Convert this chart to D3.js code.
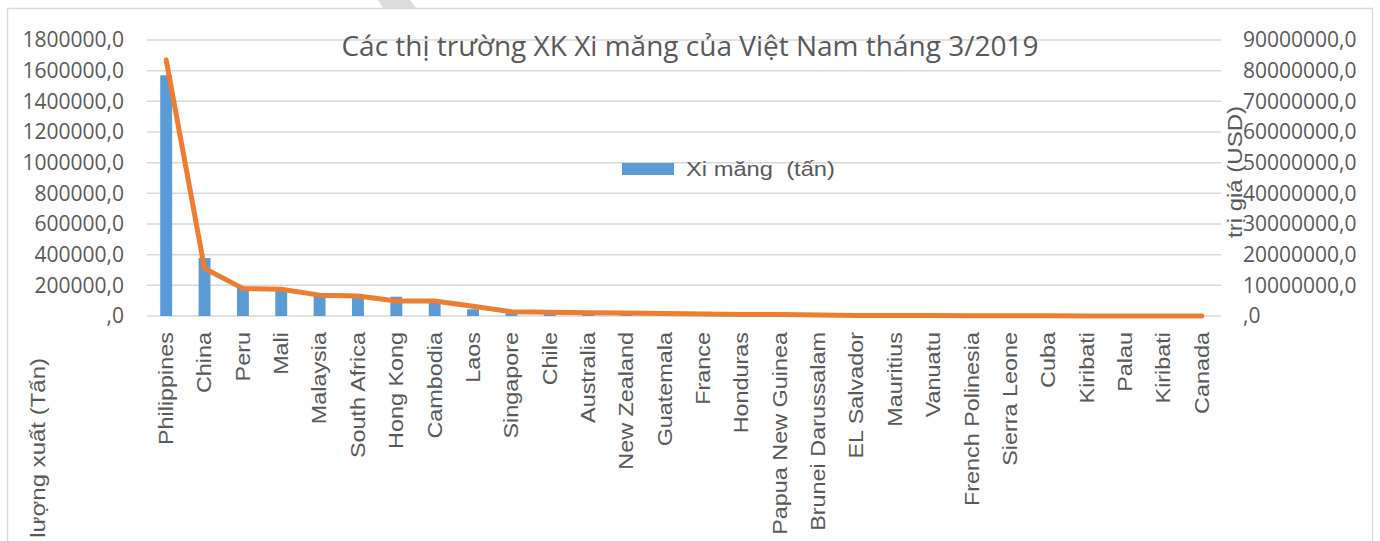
<!DOCTYPE html>
<html>
<head>
<meta charset="utf-8">
<script src="https://cdn.jsdelivr.net/npm/d3@7"></script>
<style>
  body { margin: 0; background: #fff; }
  svg { display: block; }
</style>
</head>
<body>
<div id="chart"></div>
<script>
// data
const categories = ["Philippines", "China", "Peru", "Mali", "Malaysia", "South Africa", "Hong Kong",
    "Cambodia", "Laos", "Singapore", "Chile", "Australia", "New Zealand", "Guatemala", "France",
    "Honduras", "Papua New Guinea", "Brunei Darussalam", "EL Salvador", "Mauritius", "Vanuatu",
    "French Polinesia", "Sierra Leone", "Cuba", "Kiribati", "Palau", "Kiribati", "Canada"];

const volumeTons = [1570000, 378000, 188000, 182000, 148000, 143000, 126000,
    106000, 44000, 18000, 12000, 10000, 7000, 6000, 4500,
    4000, 3500, 2500, 2000, 1500, 1200,
    800, 500, 400, 300, 200, 150, 100];

const valueUSD = [83500000, 15500000, 9000000, 8700000, 6800000, 6500000, 4900000,
    4900000, 3200000, 1400000, 1200000, 1100000, 1000000, 800000, 650000,
    500000, 450000, 300000, 200000, 180000, 150000,
    80000, 60000, 50000, 40000, 30000, 20000, 10000];

const leftTicks = [0, 200000, 400000, 600000, 800000, 1000000, 1200000, 1400000, 1600000, 1800000];
const rightTicks = [0, 10000000, 20000000, 30000000, 40000000, 50000000, 60000000, 70000000, 80000000, 90000000];

const title = "Các thị trường XK Xi măng của Việt Nam tháng 3/2019";
const legendLabel = "Xi măng  (tấn)";
const leftTitle = "Khối lượng xuất (Tấn)";
const rightTitle = "trị giá (USD)";

const width = 1380, height = 541;
const plotLeft = 147, plotRight = 1221, plotTop = 40, plotBottom = 316;
const grey = "#595959";

const svg = d3.select("#chart").append("svg")
    .attr("width", width)
    .attr("height", height);

// faint grey shape peeking in at the top edge
svg.append("polygon")
    .attr("points", "378,0 410,0 416,8 383,8")
    .attr("fill", "#dcdcdc");

// chart frame
svg.append("rect")
    .attr("x", 7.5).attr("y", 8.5)
    .attr("width", 1365).attr("height", 560)
    .attr("fill", "none")
    .attr("stroke", "#d9d9d9")
    .attr("stroke-width", 1.5);

let x = d3.scaleBand()
    .domain(d3.range(categories.length))
    .range([plotLeft, plotRight]);

let yLeft = d3.scaleLinear().domain([0, 1800000]).range([plotBottom, plotTop]);
let yRight = d3.scaleLinear().domain([0, 90000000]).range([plotBottom, plotTop]);

const fmt = d => d === 0 ? ",0" : d + ",0";

// gridlines
svg.selectAll("line.grid")
    .data(leftTicks)
    .enter()
    .append("line")
    .attr("class", "grid")
    .attr("x1", plotLeft)
    .attr("x2", plotRight)
    .attr("y1", d => yLeft(d))
    .attr("y2", d => yLeft(d))
    .attr("stroke", "#d9d9d9")
    .attr("stroke-width", 1.5);

// left axis
let gLeft = svg.append("g")
    .attr("transform", "translate(" + plotLeft + ",0)")
    .call(d3.axisLeft(yLeft).tickValues(leftTicks).tickFormat(fmt).tickSize(0).tickPadding(23));
gLeft.select(".domain").remove();
gLeft.selectAll("text")
    .attr("font-family", "'Open Sans', sans-serif")
    .attr("font-size", "21px")
    .attr("fill", grey);

// right axis
let gRight = svg.append("g")
    .attr("transform", "translate(" + plotRight + ",0)")
    .call(d3.axisRight(yRight).tickValues(rightTicks).tickFormat(fmt).tickSize(0).tickPadding(22));
gRight.select(".domain").remove();
gRight.selectAll("text")
    .attr("font-family", "'Open Sans', sans-serif")
    .attr("font-size", "21px")
    .attr("fill", grey);

// category axis, rotated labels
let gBottom = svg.append("g")
    .attr("transform", "translate(0," + plotBottom + ")")
    .call(d3.axisBottom(x).tickFormat(i => categories[i]).tickSize(0));
gBottom.select(".domain").remove();
gBottom.selectAll("text")
    .attr("font-family", "'Liberation Sans', Arial, sans-serif")
    .attr("font-size", "19.5px")
    .attr("fill", grey)
    .attr("text-anchor", "end")
    .attr("y", 0)
    .attr("dy", "0.35em")
    .attr("transform", "translate(0,16) rotate(-90) scale(1.2,1)");

// bars
svg.selectAll("rect.bar")
    .data(volumeTons)
    .enter()
    .append("rect")
    .attr("class", "bar")
    .attr("x", (d, i) => x(i) + x.bandwidth() * 0.345)
    .attr("width", x.bandwidth() * 0.31)
    .attr("y", d => yLeft(d))
    .attr("height", d => yLeft(0) - yLeft(d))
    .attr("fill", "#5b9bd5");

// value line
let line = d3.line()
    .x((d, i) => x(i) + x.bandwidth() / 2)
    .y(d => yRight(d));

svg.append("path")
    .datum(valueUSD)
    .attr("d", line)
    .attr("fill", "none")
    .attr("stroke", "#ed7d31")
    .attr("stroke-width", 5)
    .attr("stroke-linejoin", "round")
    .attr("stroke-linecap", "round");

// title
svg.append("text")
    .text(title)
    .attr("x", 690)
    .attr("y", 56)
    .attr("text-anchor", "middle")
    .attr("font-family", "'Open Sans', sans-serif")
    .attr("font-size", "28px")
    .attr("fill", grey);

// legend
svg.append("rect")
    .attr("x", 622).attr("y", 163)
    .attr("width", 52).attr("height", 12)
    .attr("fill", "#5b9bd5");
svg.append("text")
    .text(legendLabel)
    .attr("transform", "translate(686,176) scale(1.13,1)")
    .attr("font-family", "'Liberation Sans', Arial, sans-serif")
    .attr("font-size", "21px")
    .attr("fill", grey)
    .style("white-space", "pre");

// axis titles
svg.append("text")
    .text(leftTitle)
    .attr("text-anchor", "end")
    .attr("dy", "0.35em")
    .attr("transform", "translate(38,358) rotate(-90) scale(1.2,1)")
    .attr("font-family", "'Liberation Sans', Arial, sans-serif")
    .attr("font-size", "20px")
    .attr("fill", grey);

svg.append("text")
    .text(rightTitle)
    .attr("text-anchor", "middle")
    .attr("dy", "0.35em")
    .attr("transform", "translate(1235,172) rotate(-90) scale(1.2,1)")
    .attr("font-family", "'Liberation Sans', Arial, sans-serif")
    .attr("font-size", "20px")
    .attr("fill", grey);
</script>
</body>
</html>
